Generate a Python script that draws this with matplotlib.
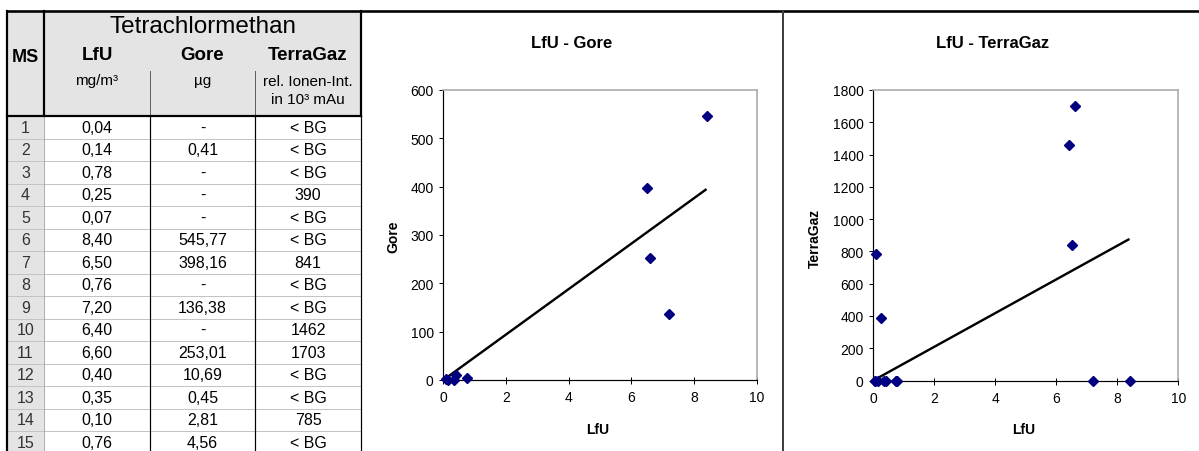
import numpy as np
import matplotlib
matplotlib.use("Agg")
import matplotlib.pyplot as plt
from matplotlib.patches import Rectangle

plt.rcParams['font.family'] = ['Liberation Sans', 'DejaVu Sans']

# ---------------- data ----------------
table_title = "Tetrachlormethan"
col_names = ["LfU", "Gore", "TerraGaz"]
col_units = ["mg/m³", "µg", "rel. Ionen-Int.\nin 10³ mAu"]
ms = list(range(1, 16))
lfu = [0.04, 0.14, 0.78, 0.25, 0.07, 8.40, 6.50, 0.76, 7.20, 6.40, 6.60, 0.40, 0.35, 0.10, 0.76]
gore = [None, 0.41, None, None, None, 545.77, 398.16, None, 136.38, None, 253.01, 10.69, 0.45, 2.81, 4.56]
terragaz = [None, None, None, 390, None, None, 841, None, None, 1462, 1703, None, None, 785, None]

chart_titles = ["LfU - Gore", "LfU - TerraGaz"]
xticks = [0, 2, 4, 6, 8, 10]
gore_yticks = [0, 100, 200, 300, 400, 500, 600]
tg_yticks = [0, 200, 400, 600, 800, 1000, 1200, 1400, 1600, 1800]

W, H = 1199, 452
fig = plt.figure(figsize=(W / 100, H / 100), dpi=100)
bg = fig.add_axes([0, 0, 1, 1], zorder=0)
bg.set_xlim(0, W)
bg.set_ylim(H, 0)
bg.axis('off')

PX = 0.72  # points per pixel

# ---------------- table ----------------
tx0, tx1 = 7, 361
c1, c2, c3 = 44, 150, 255
ytop, yhead = 12, 117
rowh = 22.5
gray_bg = '#e4e4e4'

bg.add_patch(Rectangle((tx0, ytop), tx1 - tx0, yhead - ytop, color=gray_bg, lw=0))
bg.add_patch(Rectangle((tx0, yhead), c1 - tx0, H - yhead, color=gray_bg, lw=0))

for i in range(1, len(ms) + 1):
    yy = yhead + i * rowh
    bg.plot([tx0, tx1], [yy, yy], color='#c4c4c4', lw=1 * PX)

# vertical lines
for xx in (c2, c3):
    bg.plot([xx, xx], [72, yhead], color='#606060', lw=1 * PX)
    bg.plot([xx, xx], [yhead, H], color='black', lw=1.2 * PX)
bg.plot([c1, c1], [ytop, yhead], color='black', lw=2.2 * PX)
bg.plot([c1, c1], [yhead, H], color='#b0b0b0', lw=1 * PX)
bg.plot([tx0, tx0], [ytop, H], color='black', lw=2.2 * PX)
bg.plot([tx1, tx1], [ytop, yhead], color='black', lw=2.2 * PX)
bg.plot([tx1, tx1], [yhead, H], color='black', lw=1.2 * PX)
bg.plot([tx0, tx1], [yhead, yhead], color='black', lw=2.2 * PX)
bg.plot([tx0, W], [ytop, ytop], color='black', lw=2.6 * PX)
bg.plot([783, 783], [ytop, H], color='#404040', lw=2 * PX)

ccol = [(c1 + c2) / 2, (c2 + c3) / 2, (c3 + tx1) / 2]
bg.text((c1 + tx1) / 2, 27, table_title, ha='center', va='center', fontsize=17.5)
bg.text((tx0 + c1) / 2, 57, "MS", ha='center', va='center', fontsize=13, fontweight='bold')
for x, name in zip(ccol, col_names):
    bg.text(x, 56, name, ha='center', va='center', fontsize=13.5, fontweight='bold')
for x, unit in zip(ccol, col_units):
    bg.text(x, 81 if '\n' not in unit else 91, unit, ha='center', va='center',
            fontsize=11, linespacing=1.45)


def fmt(v, dec):
    return f"{v:.{dec}f}".replace('.', ',')


for i in range(len(ms)):
    yc = yhead + rowh * (i + 0.5)
    bg.text((tx0 + c1) / 2, yc, str(ms[i]), ha='center', va='center', fontsize=11.5, color='#333333')
    bg.text(ccol[0], yc, fmt(lfu[i], 2), ha='center', va='center', fontsize=11.5)
    bg.text(ccol[1], yc, '-' if gore[i] is None else fmt(gore[i], 2), ha='center', va='center', fontsize=11.5)
    bg.text(ccol[2], yc, '< BG' if terragaz[i] is None else str(terragaz[i]), ha='center', va='center', fontsize=11.5)

# ---------------- charts ----------------
x_all = np.array(lfu)
gmask = np.array([g is not None for g in gore])
gx = x_all[gmask]
gy = np.array([g for g in gore if g is not None], dtype=float)
tx = x_all
ty = np.array([0 if t is None else t for t in terragaz], dtype=float)

charts = [
    dict(rect=(443.3, 756.7, 91, 381), x=gx, y=gy, ylim=600, yticks=gore_yticks,
         title=chart_titles[0], title_xy=(572, 43), ylabel="Gore", ylab_xy=(393, 237),
         xlab_xy=(598, 430)),
    dict(rect=(873.3, 1178.3, 91, 381.5), x=tx, y=ty, ylim=1800, yticks=tg_yticks,
         title=chart_titles[1], title_xy=(993, 43), ylabel="TerraGaz", ylab_xy=(815, 238),
         xlab_xy=(1024, 430)),
]

for c in charts:
    x0, x1, y0, y1 = c['rect']
    ax = fig.add_axes([x0 / W, 1 - y1 / H, (x1 - x0) / W, (y1 - y0) / H], zorder=2)
    ax.set_facecolor('none')
    ax.set_xlim(0, 10)
    ax.set_ylim(0, c['ylim'])
    ax.set_xticks(xticks)
    ax.set_yticks(c['yticks'])
    for s in ('left', 'bottom'):
        ax.spines[s].set_color('black')
        ax.spines[s].set_linewidth(1.2 * PX)
    for s in ('top', 'right'):
        ax.spines[s].set_color('#a8a8a8')
        ax.spines[s].set_linewidth(1.6 * PX)
    ax.tick_params(axis='x', direction='inout', length=7 * PX, width=1 * PX, labelsize=10, pad=5)
    ax.tick_params(axis='y', direction='out', length=4 * PX, width=1 * PX, labelsize=10, pad=4)
    xs, ys = c['x'], c['y']
    slope = np.sum(xs * ys) / np.sum(xs * xs)
    xl = np.array([xs.min(), xs.max()])
    ax.plot(xl, slope * xl, color='black', lw=2.4 * PX, zorder=3, solid_capstyle='butt')
    ax.plot(xs, ys, linestyle='none', marker='D', ms=5.6, color='#000080', zorder=4, clip_on=False)
    fig.text(c['title_xy'][0] / W, 1 - c['title_xy'][1] / H, c['title'], ha='center', va='center',
             fontsize=12, fontweight='bold')
    fig.text(c['ylab_xy'][0] / W, 1 - c['ylab_xy'][1] / H, c['ylabel'], ha='center', va='center',
             fontsize=10, fontweight='bold', rotation=90)
    fig.text(c['xlab_xy'][0] / W, 1 - c['xlab_xy'][1] / H, "LfU", ha='center', va='center',
             fontsize=10, fontweight='bold')

fig.savefig('out.png', dpi=100)
